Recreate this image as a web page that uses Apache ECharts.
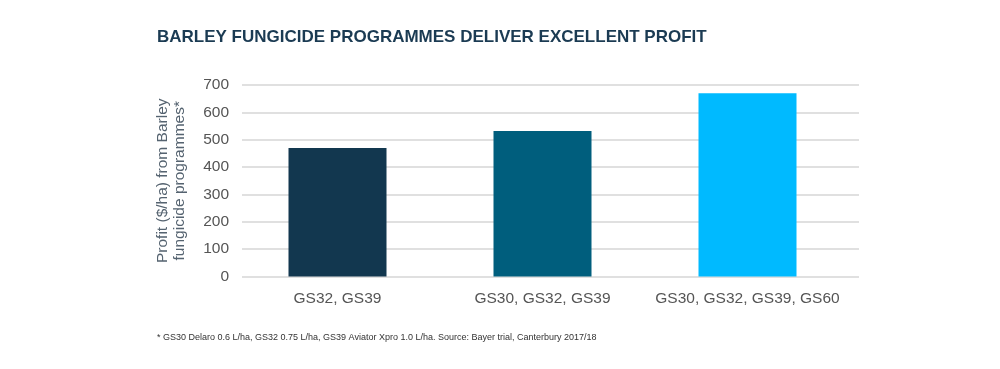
<!DOCTYPE html>
<html><head><meta charset="utf-8">
<script src="https://cdn.jsdelivr.net/npm/echarts@6/dist/echarts.min.js"></script>
<style>html,body{margin:0;padding:0;background:#fff}#c{width:1000px;height:369px}</style>
</head><body><div id="c"></div>
<script>
const categories = ['GS32, GS39', 'GS30, GS32, GS39', 'GS30, GS32, GS39, GS60'];
const profits = [470, 532, 670];
const barColors = ['#12374f', '#005e7d', '#00baff'];
const yTicks = [0, 100, 200, 300, 400, 500, 600, 700];
const titleText = 'BARLEY FUNGICIDE PROGRAMMES DELIVER EXCELLENT PROFIT';
const yName = 'Profit ($/ha) from Barley\nfungicide programmes*';
const footnote = '* GS30 Delaro 0.6 L/ha, GS32 0.75 L/ha, GS39 Aviator Xpro 1.0 L/ha. Source: Bayer trial, Canterbury 2017/18';

const chart = echarts.init(document.getElementById('c'), null, {renderer: 'canvas'});
const font = 'Liberation Sans, Arial, sans-serif';
chart.setOption({
  animation: false,
  backgroundColor: '#ffffff',
  title: [
    {text: titleText, left: 157, top: 29, padding: 0, textStyle: {fontFamily: font, fontSize: 17, fontWeight: 'bold', color: '#1b3b53'}},
    {text: footnote, left: 157, top: 333, padding: 0, textStyle: {fontFamily: font, fontSize: 9, fontWeight: 'normal', color: '#333333'}}
  ],
  grid: [
    {left: 242, right: 141, top: 85, bottom: 92.5},
    {left: 235, right: 150, top: 85, bottom: 92.5}
  ],
  xAxis: [
    {gridIndex: 0, type: 'category', data: categories, show: false},
    {gridIndex: 1, type: 'category', data: categories,
     axisLine: {show: false}, axisTick: {show: false},
     axisLabel: {interval: 0, margin: 14, fontFamily: font, fontSize: 15.5, color: '#555555'}}
  ],
  yAxis: [
    {gridIndex: 0, type: 'value', min: yTicks[0], max: yTicks[yTicks.length - 1], interval: 100,
     axisLine: {show: false}, axisTick: {show: false},
     splitLine: {lineStyle: {color: '#d6d6d6', width: 1.5}},
     axisLabel: {margin: 13, fontFamily: font, fontSize: 15.5, color: '#555555'},
     name: yName, nameLocation: 'middle', nameGap: 54,
     nameTextStyle: {fontFamily: font, fontSize: 15.5, color: '#556370', lineHeight: 17}},
    {gridIndex: 1, type: 'value', min: 0, max: 700, interval: 100, show: false, splitLine: {show: false}}
  ],
  series: [{
    type: 'bar', xAxisIndex: 1, yAxisIndex: 1, barWidth: 98,
    data: profits.map((v, i) => ({value: v, itemStyle: {color: barColors[i]}}))
  }]
});
</script></body></html>
